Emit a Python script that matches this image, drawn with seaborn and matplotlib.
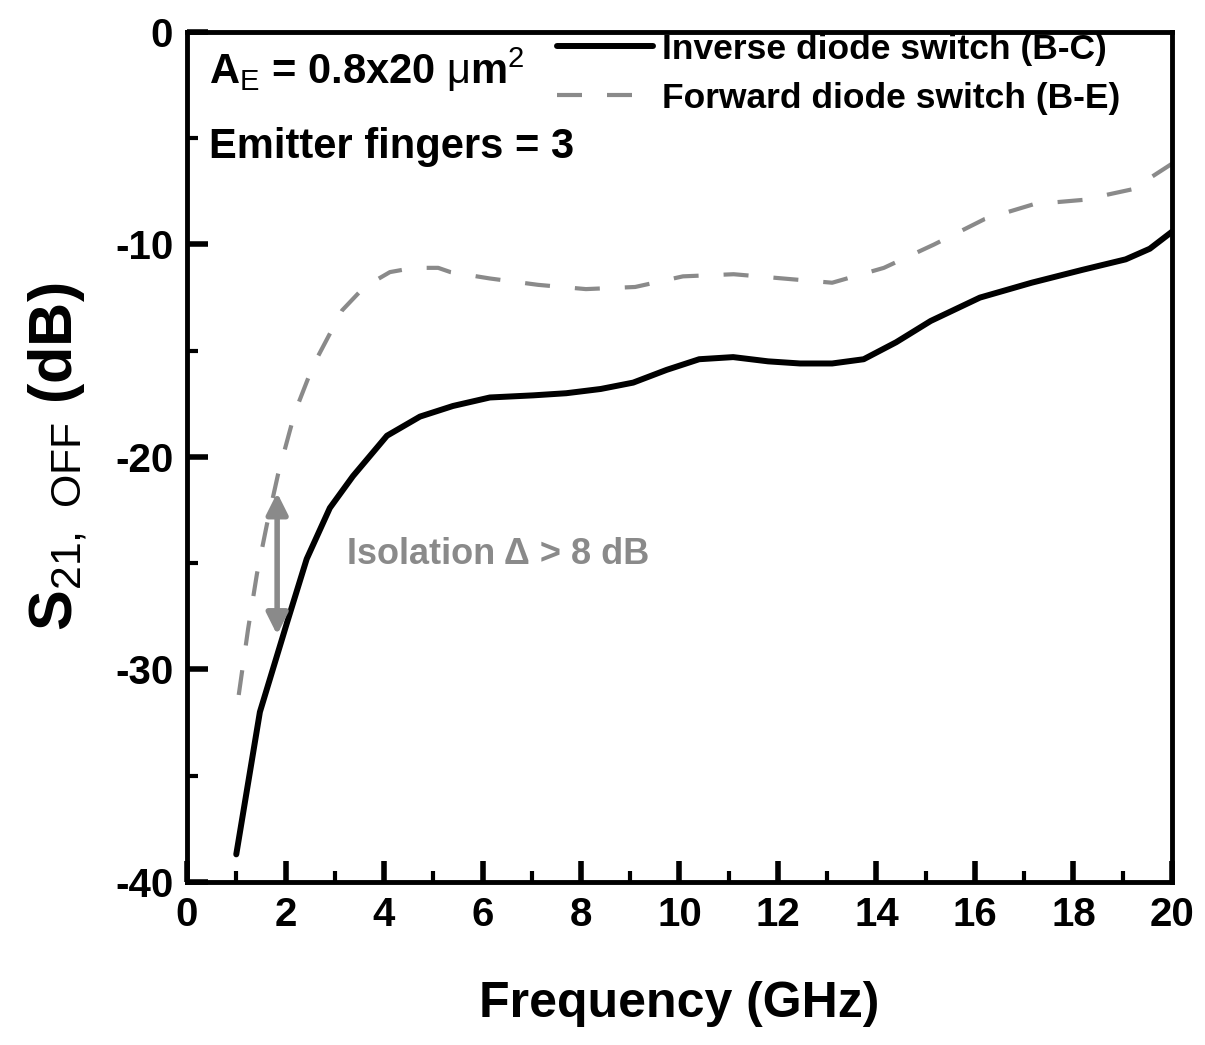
import numpy as np
import pandas as pd
import matplotlib
matplotlib.use('Agg')
from matplotlib import pyplot as plt
from matplotlib.lines import Line2D
from matplotlib.ticker import MultipleLocator
import seaborn as sns

# S21 (OFF state) vs frequency
freq_bc = [1.0, 1.48, 2.03, 2.43, 2.9, 3.37, 4.06, 4.73, 5.4, 6.15, 7.03, 7.7, 8.4, 9.06,
           9.74, 10.4, 11.09, 11.8, 12.45, 13.1, 13.74, 14.4, 15.1, 16.1, 17.15, 18.17,
           19.06, 19.55, 20.0]
s21_bc = [-38.7, -32.0, -27.8, -24.8, -22.4, -20.9, -19.0, -18.1, -17.6, -17.2, -17.1, -17.0,
          -16.8, -16.5, -15.9, -15.4, -15.3, -15.5, -15.6, -15.6, -15.4, -14.6, -13.6, -12.5,
          -11.8, -11.2, -10.7, -10.2, -9.4]

freq_be = [1.05, 1.24, 1.42, 1.62, 1.85, 2.19, 2.56, 3.15, 3.6, 4.12, 4.6, 5.1, 5.35, 6.15,
           7.13, 8.1, 9.1, 10.07, 11.1, 12.1, 13.1, 14.15, 15.17, 16.2, 17.2, 18.2, 19.2, 20.0]
s21_be = [-31.2, -28.1, -25.5, -23.2, -20.8, -17.9, -15.7, -13.1, -12.0, -11.3, -11.1, -11.1,
          -11.3, -11.6, -11.9, -12.1, -12.0, -11.5, -11.4, -11.6, -11.8, -11.1, -10.0, -8.8,
          -8.1, -7.9, -7.4, -6.2]

labels = ['Inverse diode switch (B-C)', 'Forward diode switch (B-E)']

# isolation arrow between the two curves
arrow_f = 1.83
arrow_top = -21.55
arrow_bottom = -28.5

sns.set_theme(style='ticks')
plt.rcParams['font.family'] = ['Liberation Sans', 'DejaVu Sans']
plt.rcParams['mathtext.fontset'] = 'custom'
plt.rcParams['mathtext.rm'] = 'Liberation Sans'
plt.rcParams['mathtext.bf'] = 'Liberation Sans:bold'
plt.rcParams['axes.unicode_minus'] = False
for k in ['text.color', 'axes.labelcolor', 'xtick.color', 'ytick.color', 'axes.edgecolor']:
    plt.rcParams[k] = 'black'

df_bc = pd.DataFrame({'freq': freq_bc, 's21': s21_bc})
df_be = pd.DataFrame({'freq': freq_be, 's21': s21_be})

fig = plt.figure(figsize=(12.05, 10.45), dpi=100)
ax = fig.add_axes([0.1552, 0.156, 0.8174, 0.8134])

sns.lineplot(data=df_bc, x='freq', y='s21', ax=ax, color='black', linewidth=4.3)
sns.lineplot(data=df_be, x='freq', y='s21', ax=ax, color='#8a8a8a', linewidth=3.0,
             dashes=False, linestyle=(0, (6, 6)))

ax.set_xlim(0, 20)
ax.set_ylim(-40, 0)
ax.xaxis.set_major_locator(MultipleLocator(2))
ax.xaxis.set_minor_locator(MultipleLocator(1))
ax.yaxis.set_major_locator(MultipleLocator(10))
ax.yaxis.set_minor_locator(MultipleLocator(5))
ax.tick_params(which='major', direction='in', length=15, width=4, labelsize=29, pad=10)
ax.tick_params(which='minor', direction='in', length=8, width=3)
for lab in ax.get_xticklabels() + ax.get_yticklabels():
    lab.set_fontweight('bold')
for sp in ax.spines.values():
    sp.set_linewidth(3.5)
    sp.set_color('black')

ax.set_xlabel('Frequency (GHz)', fontsize=36, fontweight='bold', labelpad=34)
ax.set_ylabel(r'$\mathbf{S}_{\mathrm{21,\ OFF}}$ (dB)', fontsize=44, fontweight='bold', labelpad=18)

ax.text(0.45, -1.8, r'A$_{\mathrm{E}}$ = 0.8x20 $\mathrm{\mu}$m$^{\mathrm{2}}$',
        fontsize=30, fontweight='bold', va='center', ha='left')
ax.text(0.45, -5.4, 'Emitter fingers = 3', fontsize=30, fontweight='bold', va='center', ha='left')

ax.annotate('', xy=(arrow_f, arrow_top), xytext=(arrow_f, arrow_bottom),
            arrowprops=dict(arrowstyle='<|-|>', color='#8a8a8a', lw=4, mutation_scale=32))
ax.text(3.25, -24.6, 'Isolation \u0394 > 8 dB', fontsize=26, fontweight='bold',
        color='#8a8a8a', va='center', ha='left')

handles = [Line2D([], [], color='black', linewidth=4.3),
           Line2D([], [], color='#8a8a8a', linewidth=3.0, linestyle=(0, (6, 6)))]
leg = ax.legend(handles, labels, loc='upper right', frameon=False, fontsize=25.5,
                handlelength=2.7, handletextpad=0.25, labelspacing=0.45,
                borderaxespad=0.1, bbox_to_anchor=(0.965, 1.02))
for t in leg.get_texts():
    t.set_fontweight('bold')

fig.savefig('out.png', dpi=100)
